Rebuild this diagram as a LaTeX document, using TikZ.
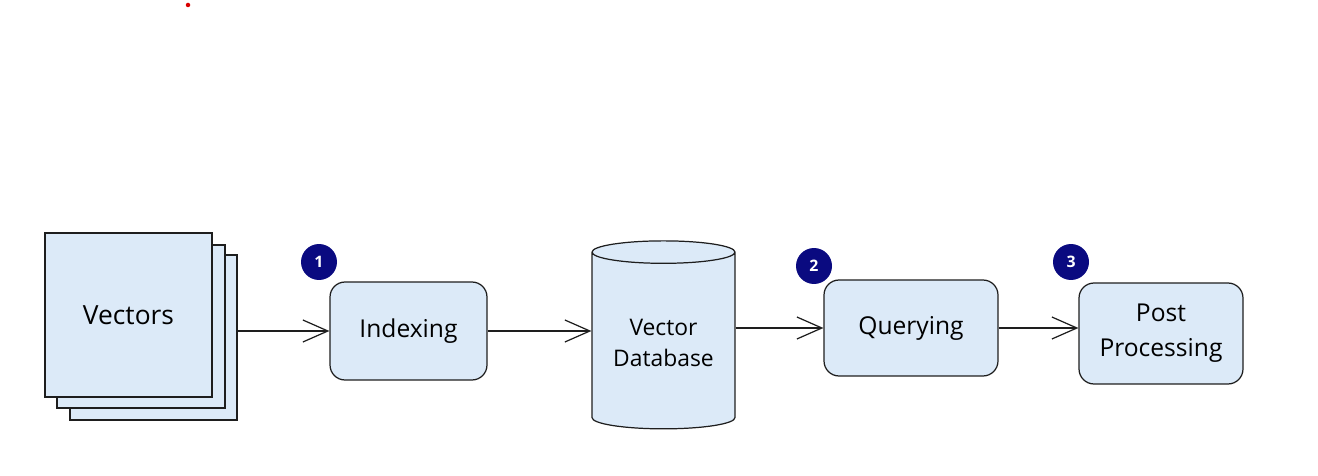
\documentclass[tikz,border=0pt]{standalone}
\usepackage{fontspec}
\setmainfont{Open Sans}
\usetikzlibrary{arrows.meta,shapes.geometric}
\definecolor{boxfill}{HTML}{DCEAF8}
\definecolor{inkline}{HTML}{1E1E1E}
\definecolor{badgeblue}{HTML}{0A0A80}

\begin{document}
\begin{tikzpicture}[x=0.02cm, y=-0.02cm]

% --- Styles ---
\tikzset{
    sheet/.style={fill=boxfill, draw=inkline, line width=0.7pt},
    stepbox/.style={sheet, rounded corners=0.3cm, align=center, font=\fontsize{14}{20}\selectfont},
    store/.style={sheet, cylinder, shape border rotate=90, aspect=0.2, cylinder uses custom fill,
        cylinder body fill=boxfill, cylinder end fill=boxfill, align=center,
        font=\fontsize{13}{18}\selectfont},
    badge/.style={circle, fill=badgeblue, text=white, minimum size=0.72cm, inner sep=0pt, font=\small\bfseries},
    arrow/.style={-{Straight Barb[length=5mm,width=4.4mm]}, draw=inkline, line width=0.7pt}
}

    \useasboundingbox (0,0) rectangle (1318,476);
    \fill[red!85!black] (188,5) circle[radius=0.045cm];

    % Vectors (stack of sheets)
    \node[sheet, minimum width=3.34cm, minimum height=3.3cm] (vec3) at (153.5,337.5) {};
    \node[sheet, minimum width=3.36cm, minimum height=3.26cm] (vec2) at (141,326.5) {};
    \node[sheet, minimum width=3.34cm, minimum height=3.28cm, font=\fontsize{15}{20}\selectfont] (vec1) at (128.5,315) {Vectors};

    % Steps
    \node[stepbox, minimum width=3.14cm, minimum height=1.96cm] (idx) at (408.5,331) {Indexing};
    \node[store, minimum width=2.86cm, minimum height=3.76cm] (db) at (663.5,343) {Vector\\Database};
    \node[stepbox, minimum width=3.48cm, minimum height=1.92cm] (qry) at (911,328) {Querying};
    \node[stepbox, minimum width=3.28cm, minimum height=2.02cm] (post) at (1161,333.5) {Post\\Processing};

    % Badges
    \node[badge] (b1) at (319,262) {1};
    \node[badge] (b2) at (814,266) {2};
    \node[badge] (b3) at (1071,262) {3};

    \draw[arrow] (vec3.east |- idx.west) -- (idx.west);
    \draw[arrow] (idx.east) -- (idx.east -| db.west);
    \draw[arrow] (db.east |- qry.west) -- (qry.west);
    \draw[arrow] (qry.east) -- (qry.east -| post.west);

\end{tikzpicture}
\end{document}
